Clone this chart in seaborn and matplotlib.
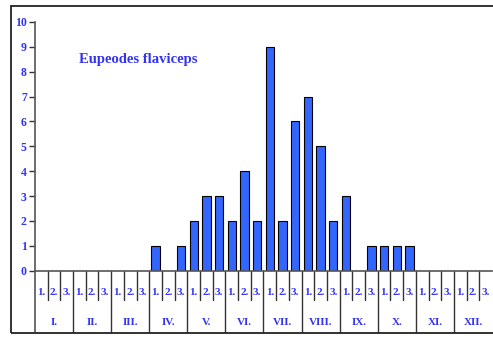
import pandas as pd
import matplotlib
matplotlib.use("Agg")
import matplotlib.pyplot as plt
import matplotlib.transforms as mtransforms
from matplotlib.patches import Rectangle
import seaborn as sns

months = ["I.", "II.", "III.", "IV.", "V.", "VI.", "VII.", "VIII.", "IX.", "X.", "XI.", "XII."]
decades = ["1.", "2.", "3."]
# counts per decade (3 per month), Jan..Dec
counts = [0, 0, 0,  0, 0, 0,  0, 0, 0,  1, 0, 1,
          2, 3, 3,  2, 4, 2,  9, 2, 6,  7, 5, 2,
          3, 0, 1,  1, 1, 1,  0, 0, 0,  0, 0, 0]

TXT = "#3333f5"
BAR = "#3366ff"
LINE = "#333333"

sns.set_style("white")
plt.rcParams["font.family"] = ["Liberation Serif", "DejaVu Serif"]

df = pd.DataFrame({"slot": range(len(counts)), "count": counts})

fig = plt.figure(figsize=(4.93, 3.39), dpi=100)
ax = fig.add_axes([35 / 493, (339 - 270.7) / 339, 457 / 493, (270.7 - 22) / 339])
sns.barplot(data=df, x="slot", y="count", color=BAR, saturation=1,
            edgecolor="black", linewidth=0.8, width=0.65, ax=ax)

ax.set_xlim(-0.5, 35.5)
ax.set_ylim(0, 10)
ax.set_yticks(range(11))
ax.set_xticks([])
ax.set_xlabel("")
ax.set_ylabel("")
ax.tick_params(axis="y", length=4, width=1, color=LINE, direction="out",
               labelsize=8.5, labelcolor=TXT, pad=2, left=True)
for lbl in ax.get_yticklabels():
    lbl.set_fontweight("bold")
for s in ["top", "right"]:
    ax.spines[s].set_visible(False)
for s in ["left", "bottom"]:
    ax.spines[s].set_color("#555555")
    ax.spines[s].set_linewidth(1.2)

# table under the axis: decade cells and month cells
trans = mtransforms.blended_transform_factory(ax.transData, ax.transAxes)
for i in range(36):
    x = i - 0.5
    low = -0.246 if i % 3 == 0 else -0.118
    ax.plot([x, x], [0, low], transform=trans, clip_on=False,
            color="#555555" if i == 0 else LINE, lw=1.2 if i == 0 else 1)
for i in range(36):
    ax.text(i, -0.088, decades[i % 3], transform=trans, ha="center", va="center",
            fontsize=8, fontweight="bold", color=TXT)
for m, name in enumerate(months):
    ax.text(3 * m + 1, -0.209, name, transform=trans, ha="center", va="center",
            fontsize=8, fontweight="bold", color=TXT)

fig.text(79 / 493, 1 - 59 / 339, "Eupeodes flaviceps", ha="left", va="center",
         fontsize=10.5, fontweight="bold", color=TXT)

fig.patches.append(Rectangle((11 / 493, 6 / 339), 0.99, 327 / 339,
                             transform=fig.transFigure, fill=False,
                             edgecolor="#222222", lw=1.3))

fig.savefig("out.png", dpi=100)
